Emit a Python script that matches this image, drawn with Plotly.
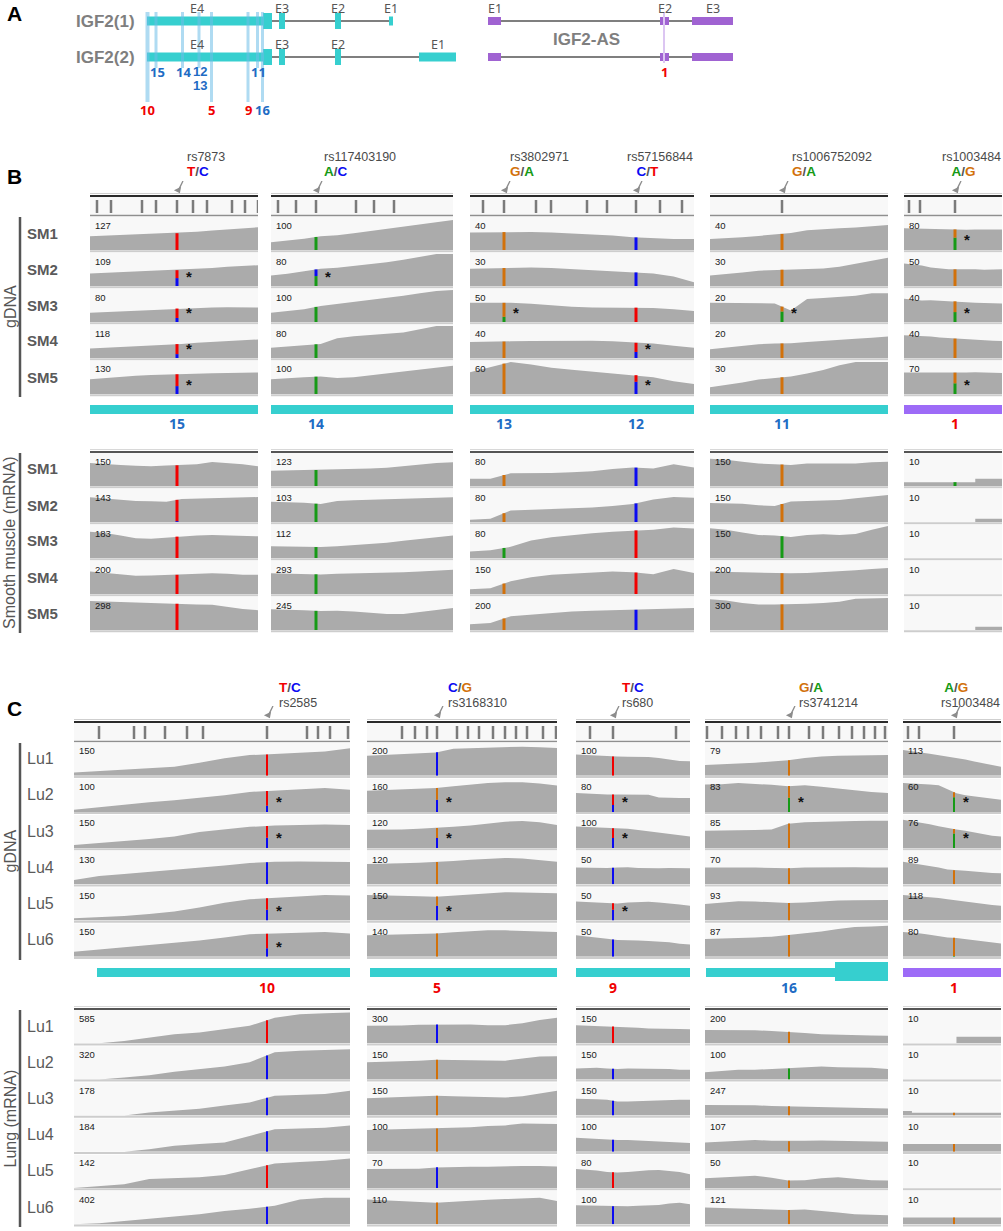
import numpy as np
import plotly.graph_objects as go

W, H = 1003, 1231

# ---------------- data ----------------
# panel A: schematic gene models (schematic position units)
igf2_names = ["IGF2(1)", "IGF2(2)"]
igf2_utr = (147, 263)
igf2_coding = [(263, 272), (279, 285), (335, 341)]
igf2_first_exon = [(389, 393), (419, 456)]
igf2_exon_names = ["E4", "E3", "E2", "E1"]
as_exons = [(488, 501), (660, 669), (692, 733)]
as_exon_names = ["E1", "E2", "E3"]
a_region_names = ["10", "15", "14", "12<br>13", "5", "9", "11", "16"]
a_region_pos = [147.5, 156, 182.5, 199, 211.5, 248, 257.5, 262.5]
as_region_pos = 664

base_colors = {"A": "#169a16", "C": "#0a0af2", "G": "#d2710a", "T": "#f20000"}
red_regions = {"10", "5", "9", "1"}

# panel B: smooth muscle
b_samples = ["SM1", "SM2", "SM3", "SM4", "SM5"]
b_snp_ids = [["rs7873"], ["rs117403190"], ["rs3802971", "rs57156844"], ["rs1006752092"], ["rs1003484"]]
b_alleles = [[("T", "C")], [("A", "C")], [("G", "A"), ("C", "T")], [("G", "A")], [("A", "G")]]
b_bar_bases = [[("T", "C")], [("C", "A")], [("G", "A"), ("T", "C")], [("G", "A")], [("G", "A")]]  # (top, bottom)
b_window_bp = [168, 182, 224, 178, 98]
b_snp_bp = [[87], [45], [34, 166], [72], [51]]
b_ruler_bp = [[7, 21, 52, 66, 87, 103, 117, 142, 155, 168], [7, 25, 45, 85, 103, 123],
              [13, 34, 66, 81, 117, 137, 166, 190, 212], [72], [5, 16, 51]]
b_exon_bp = [[(0, 168)], [(0, 182)], [(0, 224)], [(0, 178)], [(0, 98)]]
b_exon_gene = ["IGF2", "IGF2", "IGF2", "IGF2", "IGF2-AS"]
b_region_labels = [["15"], ["14"], ["13", "12"], ["11"], ["1"]]

b_gdna_scale = [[127, 109, 80, 118, 130], [100, 80, 100, 80, 100], [40, 30, 50, 40, 60],
                [40, 30, 20, 20, 30], [80, 50, 40, 40, 70]]
b_mrna_scale = [[150, 143, 183, 200, 298], [123, 103, 112, 293, 245], [80, 80, 80, 150, 200],
                [150, 150, 150, 200, 300], [10, 10, 10, 10, 10]]

# coverage, % of each track's data range, evenly spaced along the window
b_gdna_cov = [
    [[43, 45, 46, 47, 49, 51, 53, 57, 61, 64, 67, 71],
     [39, 41, 43, 45, 46, 48, 50, 53, 56, 60, 63, 65],
     [29, 31, 33, 35, 37, 40, 43, 45, 45, 46, 45, 45],
     [30, 32, 34, 37, 40, 42, 44, 48, 51, 54, 57, 58],
     [46, 50, 54, 57, 59, 61, 62, 64, 65, 66, 67, 67]],
    [[24, 29, 35, 43, 46, 52, 59, 66, 73, 80, 88, 94],
     [33, 38, 46, 54, 57, 62, 68, 74, 82, 92, 100, 100],
     [29, 34, 40, 50, 56, 62, 68, 75, 82, 90, 97, 100],
     [32, 35, 40, 44, 62, 68, 72, 76, 80, 90, 100, 100],
     [46, 48, 52, 55, 50, 52, 58, 64, 70, 76, 82, 88]],
    [[55, 56, 56, 56, 55, 52, 48, 45, 40, 36, 34, 34],
     [54, 55, 57, 58, 56, 53, 50, 47, 43, 39, 30, 12],
     [60, 60, 60, 57, 52, 48, 45, 45, 45, 44, 40, 34],
     [50, 50, 52, 53, 54, 55, 54, 52, 48, 45, 38, 32],
     [68, 85, 100, 92, 82, 76, 70, 66, 60, 52, 40, 31]],
    [[34, 36, 40, 44, 48, 53, 62, 66, 68, 70, 73, 78],
     [33, 37, 42, 48, 50, 52, 52, 55, 60, 70, 80, 88],
     [60, 60, 60, 60, 58, 36, 72, 75, 78, 82, 90, 90],
     [27, 32, 38, 43, 45, 46, 50, 54, 58, 60, 63, 67],
     [21, 28, 36, 45, 50, 55, 64, 75, 90, 100, 100, 100]],
    [[68, 67, 66, 65, 64, 65, 64, 63, 64, 64, 64, 64],
     [70, 68, 64, 58, 55, 52, 52, 53, 52, 51, 52, 52],
     [73, 70, 67, 68, 67, 66, 64, 62, 60, 59, 58, 58],
     [71, 70, 68, 67, 64, 62, 60, 58, 57, 55, 54, 53],
     [67, 67, 66, 65, 66, 66, 67, 67, 68, 68, 67, 66]],
]
b_mrna_cov = [
    [[72, 70, 66, 63, 62, 64, 65, 68, 75, 72, 68, 62],
     [77, 73, 70, 66, 65, 63, 72, 73, 74, 76, 77, 78],
     [82, 78, 70, 62, 60, 64, 68, 70, 72, 70, 69, 68],
     [70, 66, 60, 57, 58, 60, 60, 62, 65, 63, 60, 60],
     [91, 90, 88, 86, 84, 82, 82, 80, 79, 72, 66, 62]],
    [[48, 49, 50, 50, 53, 54, 55, 57, 62, 68, 72, 74],
     [63, 62, 60, 56, 66, 68, 70, 72, 73, 74, 76, 77],
     [37, 36, 35, 34, 37, 40, 44, 48, 54, 60, 65, 70],
     [65, 64, 63, 61, 63, 64, 64, 66, 68, 70, 73, 76],
     [65, 64, 62, 59, 60, 58, 55, 50, 50, 57, 64, 69]],
    [[23, 23, 40, 40, 41, 43, 46, 53, 58, 55, 68, 58],
     [7, 10, 36, 38, 40, 42, 45, 50, 56, 70, 78, 76],
     [20, 24, 35, 55, 65, 72, 77, 82, 86, 88, 95, 92],
     [15, 18, 40, 52, 60, 64, 67, 70, 68, 62, 78, 66],
     [18, 22, 43, 48, 54, 58, 60, 62, 63, 64, 66, 69]],
    [[85, 82, 76, 70, 68, 66, 70, 70, 68, 70, 74, 76],
     [59, 59, 57, 52, 50, 64, 66, 67, 69, 74, 80, 84],
     [93, 88, 80, 72, 70, 66, 72, 74, 72, 75, 88, 100],
     [70, 69, 68, 66, 65, 65, 66, 68, 70, 74, 78, 81],
     [96, 92, 84, 80, 80, 80, 82, 84, 88, 98, 100, 100]],
    [[12, 12, 12, 12, 12, 12, 12, 12, 23, 23, 23, 23],
     [0, 0, 0, 0, 0, 0, 0, 0, 10, 10, 10, 10],
     [0, 0, 0, 0, 0, 0, 0, 0, 0, 0, 0, 0],
     [0, 0, 0, 0, 0, 0, 0, 0, 0, 0, 0, 0],
     [0, 0, 0, 0, 0, 0, 0, 0, 10, 10, 10, 10]],
]
# fraction of reads carrying the lower (bottom) allele at each SNP; None = no mismatch bar
b_gdna_alt = [[[0, 0.5, 0.3, 0.28, 0.4]], [[1, 0.6, 1, 1, 1]],
              [[0, 0, 0.27, 0, 0], [1, 1, 0, 0.4, 0.65]], [[0, 0, 0.68, 0, 0]], [[0.6, 0, 0.48, 0, 0.5]]]
b_mrna_alt = [[[0, 0.04, 0, 0, 0]], [[1, 1, 1, 1, 1]],
              [[0, 0, 1, 0, 0], [1, 1, 0, 0, 1]], [[0, 0, 1, 0, 0]], [[1, None, None, None, None]]]

# panel C: lung
c_samples = ["Lu1", "Lu2", "Lu3", "Lu4", "Lu5", "Lu6"]
c_snp_ids = [["rs2585"], ["rs3168310"], ["rs680"], ["rs3741214"], ["rs1003484"]]
c_alleles = [[("T", "C")], [("C", "G")], [("T", "C")], [("G", "A")], [("A", "G")]]
c_bar_bases = [[("T", "C")], [("G", "C")], [("T", "C")], [("G", "A")], [("G", "A")]]
c_window_bp = [276, 190, 114, 183, 98]
c_snp_bp = [[193], [70], [37], [84], [51]]
c_ruler_bp = [[25, 60, 71, 91, 113, 129, 193, 233, 244, 256, 274],
              [35, 48, 60, 70, 90, 101, 112, 126, 138, 149, 160, 176, 189],
              [14, 37, 100],
              [2, 17, 31, 43, 56, 73, 84, 104, 118, 134, 147, 159, 170, 180],
              [5, 16, 51]]
c_exon_bp = [[(23, 276)], [(3, 190)], [(0, 114)], [(1, 130), (130, 183)], [(0, 98)]]
c_exon_thick = [[False], [False], [False], [False, True], [False]]
c_exon_gene = ["IGF2", "IGF2", "IGF2", "IGF2", "IGF2-AS"]
c_region_labels = [["10"], ["5"], ["9"], ["16"], ["1"]]

c_gdna_scale = [[150, 100, 150, 130, 150, 150], [200, 160, 120, 120, 150, 140], [100, 80, 100, 50, 50, 50],
                [79, 83, 85, 70, 93, 87], [113, 60, 76, 89, 118, 80]]
c_mrna_scale = [[585, 320, 178, 184, 142, 402], [300, 150, 150, 100, 70, 110], [150, 150, 150, 100, 80, 100],
                [200, 100, 247, 107, 50, 121], [10, 10, 10, 10, 10, 10]]

c_gdna_cov = [
    [[10, 14, 18, 22, 28, 40, 54, 64, 67, 70, 75, 85],
     [7, 15, 24, 30, 36, 43, 52, 62, 66, 70, 74, 69],
     [10, 15, 22, 28, 36, 50, 58, 66, 70, 72, 73, 72],
     [13, 26, 32, 38, 44, 50, 58, 66, 70, 71, 69, 69],
     [7, 10, 14, 20, 28, 40, 55, 66, 70, 76, 79, 78],
     [15, 22, 30, 36, 42, 50, 60, 70, 72, 75, 77, 72]],
    [[62, 64, 66, 68, 72, 84, 86, 88, 90, 90, 88, 86],
     [66, 68, 70, 72, 74, 80, 86, 90, 92, 92, 88, 82],
     [57, 57, 58, 60, 62, 66, 70, 76, 82, 84, 80, 72],
     [63, 63, 65, 67, 69, 72, 76, 80, 82, 80, 76, 70],
     [79, 77, 76, 75, 74, 78, 82, 86, 88, 87, 86, 85],
     [67, 68, 70, 71, 72, 76, 80, 82, 82, 81, 80, 77]],
    [[66, 64, 62, 60, 60, 59, 59, 58, 55, 50, 46, 45],
     [59, 57, 56, 54, 54, 54, 54, 53, 45, 43, 43, 43],
     [67, 66, 64, 62, 62, 60, 56, 52, 48, 44, 40, 36],
     [52, 51, 50, 51, 52, 53, 51, 50, 50, 51, 50, 50],
     [59, 58, 56, 54, 53, 56, 58, 58, 56, 54, 50, 46],
     [67, 64, 60, 56, 52, 50, 50, 49, 48, 45, 40, 38]],
    [[33, 35, 37, 40, 44, 48, 55, 60, 62, 63, 63, 64],
     [85, 86, 90, 88, 84, 80, 83, 78, 72, 66, 62, 59],
     [54, 54, 55, 56, 58, 76, 80, 82, 83, 84, 85, 85],
     [52, 51, 52, 52, 51, 50, 52, 53, 54, 53, 52, 52],
     [51, 56, 60, 59, 56, 54, 56, 60, 62, 63, 64, 64],
     [55, 56, 58, 60, 62, 67, 72, 78, 86, 92, 94, 96]],
    [[80, 77, 72, 68, 64, 60, 55, 50, 44, 38, 32, 28],
     [90, 89, 87, 85, 83, 70, 58, 52, 48, 44, 40, 38],
     [88, 84, 80, 74, 68, 62, 58, 54, 48, 42, 38, 36],
     [70, 66, 62, 58, 52, 46, 43, 42, 40, 37, 35, 34],
     [79, 77, 75, 72, 70, 66, 62, 58, 54, 50, 48, 46],
     [77, 75, 72, 68, 63, 60, 58, 55, 52, 48, 45, 41]],
]
c_mrna_cov = [
    [[0, 0, 7, 18, 28, 33, 43, 54, 79, 90, 93, 95],
     [0, 0, 6, 13, 24, 32, 40, 53, 84, 89, 92, 94],
     [0, 0, 0, 10, 15, 21, 31, 41, 62, 64, 67, 77],
     [0, 0, 0, 8, 19, 24, 29, 49, 70, 72, 75, 82],
     [0, 7, 12, 28, 30, 33, 40, 59, 76, 81, 85, 92],
     [0, 3, 10, 18, 24, 31, 41, 48, 57, 77, 82, 82]],
    [[54, 54, 55, 57, 58, 58, 58, 56, 56, 62, 72, 79],
     [53, 54, 56, 58, 61, 60, 59, 57, 58, 65, 71, 72],
     [54, 56, 58, 60, 62, 60, 58, 56, 56, 60, 68, 77],
     [68, 69, 70, 71, 72, 74, 76, 80, 82, 88, 88, 86],
     [59, 59, 59, 60, 64, 66, 66, 66, 68, 68, 68, 67],
     [77, 74, 72, 68, 67, 70, 74, 76, 78, 80, 82, 72]],
    [[56, 55, 54, 52, 52, 50, 48, 46, 46, 45, 44, 43],
     [34, 36, 36, 34, 32, 34, 34, 32, 34, 32, 30, 30],
     [52, 52, 51, 49, 44, 44, 45, 47, 49, 49, 49, 49],
     [44, 42, 40, 38, 37, 37, 35, 33, 31, 29, 28, 27],
     [59, 57, 54, 50, 48, 50, 53, 55, 56, 54, 50, 43],
     [59, 58, 57, 56, 55, 56, 57, 58, 60, 64, 67, 62]],
    [[41, 41, 41, 40, 38, 36, 32, 28, 26, 25, 24, 23],
     [22, 26, 30, 30, 32, 34, 38, 40, 38, 37, 36, 32],
     [33, 33, 32, 32, 30, 29, 29, 28, 27, 26, 24, 22],
     [29, 31, 34, 37, 34, 33, 34, 35, 34, 33, 32, 31],
     [30, 32, 34, 38, 32, 23, 24, 30, 33, 28, 24, 23],
     [52, 50, 49, 48, 46, 44, 46, 42, 36, 31, 29, 28]],
    [[0, 0, 0, 0, 0, 0, 20, 20, 20, 20, 20, 20],
     [0, 0, 0, 0, 0, 0, 0, 0, 0, 0, 0, 0],
     [14, 9, 9, 9, 9, 9, 9, 9, 9, 9, 9, 9],
     [24, 24, 24, 24, 24, 24, 24, 24, 24, 24, 24, 24],
     [0, 0, 0, 0, 0, 0, 0, 0, 0, 0, 0, 0],
     [21, 21, 21, 21, 21, 21, 21, 21, 21, 21, 21, 21]],
]
c_gdna_alt = [[[0, 0.3, 0.47, 1, 0.48, 0.37]], [[1, 0.51, 0.5, 0, 0.62, 0]], [[0, 0.4, 0.5, 1, 0.63, 1]],
              [[0, 0.55, 0, 0, 0, 0]], [[None, 0.74, 0.77, 0, None, 0.04]]]
c_mrna_alt = [[[0, 1, 1, 1, 0, 1]], [[1, 0, 0, 0, 1, 0]], [[0, 1, 1, 1, 0, 1]],
              [[0, 1, 0, 0, 0, 0]], [[None, None, 0, 0, None, 0]]]

# ---------------- styles / layout positions (px) ----------------
COV = "#ababab"
TRACK_BG = "#f8f8f8"
SEP = "#cdcdcd"
CYAN = "#36cfcf"
PURPLE_BAR = "#9d6bf7"
PURPLE_A = "#a063d2"
BAND = "rgba(110,190,232,0.55)"
BLUE_TXT = "#1f6cc4"
RED_TXT = "#f00000"
SANS = "Liberation Sans"
HEAD = "Noto Sans"

b_col_left = [90, 271, 470, 710, 904]
c_col_left = [74, 367, 576, 705, 903]

fig = go.Figure()
axes = {}
shapes = []
annos = []
n_ax = [0]


def px_x(v):
    return v / W


def px_y(v):
    return 1 - v / H


def add_axes(left, right, top, bottom, xr, yr):
    n_ax[0] += 1
    s = "" if n_ax[0] == 1 else str(n_ax[0])
    axes["xaxis" + s] = dict(domain=[left / W, right / W], range=xr, visible=False,
                             fixedrange=True, anchor="y" + s)
    axes["yaxis" + s] = dict(domain=[1 - bottom / H, 1 - top / H], range=yr, visible=False,
                             fixedrange=True, anchor="x" + s)
    return "x" + s, "y" + s


def text(x, y, t, size=12, color="#333", family=SANS, xanchor="center", xref="paper", angle=0, yanchor="middle"):
    annos.append(dict(x=x, y=y, xref=xref, yref="paper", text=t, showarrow=False, textangle=angle,
                      xanchor=xanchor, yanchor=yanchor, align="left" if xanchor == "left" else "center",
                      font=dict(size=size, color=color, family=family)))


def hline(x0, x1, y, color, width):
    shapes.append(dict(type="line", xref="paper", yref="paper", x0=px_x(x0), x1=px_x(x1),
                       y0=px_y(y), y1=px_y(y), line=dict(color=color, width=width), layer="below"))


def prect(x0, x1, y0, y1, color):
    shapes.append(dict(type="rect", xref="paper", yref="paper", x0=px_x(x0), x1=px_x(x1),
                       y0=px_y(y1), y1=px_y(y0), fillcolor=color, line_width=0, layer="below"))


# ---------------- panel A ----------------
ax_a, ay_a = add_axes(0, W, 0, 130, [0, W], [130, 0])
row_y = [21, 57]
for i, name in enumerate(igf2_names):
    y = row_y[i]
    text(px_x(74), px_y(y), "<b>" + name + "</b>", 17, "#7f7f7f", xanchor="left")
    e1 = igf2_first_exon[i]
    shapes.append(dict(type="line", xref=ax_a, yref=ay_a, x0=igf2_coding[0][1], x1=e1[0], y0=y, y1=y,
                       line=dict(color="#555", width=1.5)))
    shapes.append(dict(type="rect", xref=ax_a, yref=ay_a, x0=igf2_utr[0], x1=igf2_utr[1], y0=y - 4.5, y1=y + 4.5,
                       fillcolor=CYAN, line_width=0))
    for (s, e) in igf2_coding:
        shapes.append(dict(type="rect", xref=ax_a, yref=ay_a, x0=s, x1=e, y0=y - 8, y1=y + 8,
                           fillcolor=CYAN, line_width=0))
    shapes.append(dict(type="rect", xref=ax_a, yref=ay_a, x0=e1[0], x1=e1[1], y0=y - 4.5, y1=y + 4.5,
                       fillcolor=CYAN, line_width=0))
    lab_x = [197, (igf2_coding[1][0] + igf2_coding[1][1]) / 2, (igf2_coding[2][0] + igf2_coding[2][1]) / 2,
             (e1[0] + e1[1]) / 2]
    for nm, lx in zip(igf2_exon_names, lab_x):
        text(lx, px_y(max(y - 13, 8.5)), nm, 12.5, "#555", HEAD, xref=ax_a)
    # IGF2-AS
    shapes.append(dict(type="line", xref=ax_a, yref=ay_a, x0=as_exons[0][1], x1=as_exons[-1][0], y0=y, y1=y,
                       line=dict(color="#555", width=1.5)))
    for (s, e) in as_exons:
        shapes.append(dict(type="rect", xref=ax_a, yref=ay_a, x0=s, x1=e, y0=y - 4, y1=y + 4,
                           fillcolor=PURPLE_A, line_width=0))
for nm, (s, e) in zip(as_exon_names, as_exons):
    text((s + e) / 2, px_y(8.5), nm, 12.5, "#555", HEAD, xref=ax_a)
text(px_x(586), px_y(40), "<b>IGF2-AS</b>", 17, "#7f7f7f")

# highlighted regions
for nm, pos in zip(a_region_names, a_region_pos):
    long_band = nm in red_regions or nm == "16"
    wd = 4 if nm == "10" else 3
    shapes.append(dict(type="rect", xref=ax_a, yref=ay_a, x0=pos - wd / 2, x1=pos + wd / 2, y0=12,
                       y1=102 if long_band else 68, fillcolor=BAND, line_width=0))
    col = RED_TXT if nm in red_regions else BLUE_TXT
    if long_band:
        text(pos, px_y(110), "<b>" + nm + "</b>", 13, col, HEAD, xref=ax_a)
    elif "<br>" in nm:
        stacked = "<br>".join("<span style='font-size:13px'>" + part + "</span>" for part in nm.split("<br>"))
        text(pos + 1, px_y(78.5), "<b>" + stacked + "</b>", 10.6, col, SANS, xref=ax_a)
    else:
        text(pos + 1, px_y(72), "<b>" + nm + "</b>", 13, col, HEAD, xref=ax_a)
shapes.append(dict(type="line", xref=ax_a, yref=ay_a, x0=as_region_pos, x1=as_region_pos, y0=12, y1=63,
                   line=dict(color="#dcc6f2", width=2)))
text(as_region_pos, px_y(72), "<b>1</b>", 13, RED_TXT, HEAD, xref=ax_a)

for letter, ly in [("A", 14), ("B", 177), ("C", 708)]:
    text(px_x(14), px_y(ly), "<b>" + letter + "</b>", 21, "#000")


# ---------------- genome-browser panels ----------------
def allele_html(pair):
    a, b = pair
    return ("<b><span style='font-size:13.5px;color:%s'>%s</span><span style='font-size:13.5px;color:#555'>/</span>"
            "<span style='font-size:13.5px;color:%s'>%s</span></b>" % (base_colors[a], a, base_colors[b], b))


def ruler(col_left, windows, marks, top):
    xas = []
    for c in range(5):
        left, right = col_left[c], col_left[c] + windows[c]
        hline(left, right, top - 2.5, "#cfcfcf", 1)
        hline(left, right, top, "#2b2b2b", 2)
        prect(left, right, top + 1, top + 19, TRACK_BG)
        hline(left, right, top + 19.5, "#8f8f8f", 1.5)
        xa, ya = add_axes(left, right, top + 4, top + 17, [0, windows[c]], [0, 1])
        xs, ys = [], []
        for m in marks[c]:
            xs += [m, m, None]
            ys += [0, 1, None]
        fig.add_trace(go.Scatter(x=xs, y=ys, xaxis=xa, yaxis=ya, mode="lines",
                                 line=dict(color="#7b7b7b", width=2.5), hoverinfo="skip", showlegend=False))
        xas.append(xa)
    return xas


def tracks(col_left, windows, snp_bp, bar_bases, cov, scale, alt, top, pitch, bar_w, gdna, step_cols,
           samples, sample_bold, mrna_line):
    for c in range(5):
        left, right = col_left[c], col_left[c] + windows[c]
        if mrna_line:
            hline(left, right, top - 3.5, "#d8d8d8", 1)
            hline(left, right, top - 1, "#555", 2)
        for r in range(len(samples)):
            t = top + r * pitch
            b = t + pitch
            prect(left, right, t, b - 3, TRACK_BG)
            hline(left, right, b - 1.8, SEP, 2)
            xa, ya = add_axes(left, right, t + 1, b - 3, [0, windows[c]], [0, 100])
            vals = cov[c][r]
            xs = np.linspace(0, windows[c], len(vals))
            step = c in step_cols
            fig.add_trace(go.Scatter(x=xs, y=vals, xaxis=xa, yaxis=ya, mode="lines",
                                     line=dict(color=COV, width=0, shape="hv" if step else "linear"),
                                     fill="tozeroy", fillcolor=COV, hoverinfo="skip", showlegend=False))
            text(px_x(left + 3), px_y(t + 8), str(scale[c][r]), 9.5, "#1a1a1a", xanchor="left")
            for k, p in enumerate(snp_bp[c]):
                f = alt[c][k][r]
                if f is None:
                    continue
                if step:
                    h = vals[int(np.searchsorted(xs, p, side="right")) - 1]
                else:
                    h = float(np.interp(p, xs, vals))
                top_b, bot_b = bar_bases[c][k]
                split = h * f
                if split > 0:
                    fig.add_trace(go.Scatter(x=[p, p], y=[0, split], xaxis=xa, yaxis=ya, mode="lines",
                                             line=dict(color=base_colors[bot_b], width=bar_w),
                                             hoverinfo="skip", showlegend=False))
                if split < h:
                    fig.add_trace(go.Scatter(x=[p, p], y=[split, h], xaxis=xa, yaxis=ya, mode="lines",
                                             line=dict(color=base_colors[top_b], width=bar_w),
                                             hoverinfo="skip", showlegend=False))
                if gdna and 0.1 < f < 0.9:
                    text(p + 12, px_y(t + 23), "<b>*</b>", 15, "#111", xref=xa)
    for r, nm in enumerate(samples):
        label = "<b>" + nm + "</b>" if sample_bold else nm
        text(px_x(25), px_y(top + r * pitch + pitch / 2 - 2), label, 15 if sample_bold else 16, "#5a5a5a",
             xanchor="left")


def headers(col_left, windows, snp_bp, ids, alleles, head_left, pad, rs_first, mid_y, tip_y):
    # pointer arrows on a small axis above each ruler, labels as one two-line text
    tail_dx, tail_dy = 6, 12
    head_angle = float(np.degrees(np.arctan2(-tail_dx, tail_dy))) % 360 + 180
    for c in range(5):
        xa, ya = add_axes(col_left[c], col_left[c] + windows[c], tip_y - tail_dy, tip_y, [0, windows[c]], [0, 1])
        for k, p in enumerate(snp_bp[c]):
            fig.add_trace(go.Scatter(x=[p + tail_dx, p + 1.2], y=[1, 0.2], xaxis=xa, yaxis=ya, mode="lines",
                                     line=dict(color="#8c8c8c", width=1.3), hoverinfo="skip", showlegend=False))
            fig.add_trace(go.Scatter(x=[p + 1.3], y=[0.25], xaxis=xa, yaxis=ya, mode="markers",
                                     marker=dict(symbol="triangle-up", size=7, angle=head_angle, color="#8c8c8c"),
                                     hoverinfo="skip", showlegend=False, cliponaxis=False))
            rs_pad, al_pad = pad[c][k]
            rs_line = "&nbsp;" * rs_pad + "<span style='font-size:12.5px;color:#4a4a4a'>" + ids[c][k] + "</span>"
            al_line = "&nbsp;" * al_pad + allele_html(alleles[c][k])
            body = rs_line + "<br>" + al_line if rs_first else al_line + "<br>" + rs_line
            text(px_x(head_left[c][k]), px_y(mid_y), body, 11.5, "#4a4a4a", SANS, xanchor="left")


def gene_bars(col_xas, exons, genes, thick, labels, snp_bp, y0, y1, lab_y):
    for c in range(5):
        color = PURPLE_BAR if genes[c] == "IGF2-AS" else CYAN
        for j, (s, e) in enumerate(exons[c]):
            big = thick is not None and thick[c][j]
            shapes.append(dict(type="rect", xref=col_xas[c], yref="paper", x0=s, x1=e,
                               y0=px_y(y1 + (4 if big else 0)), y1=px_y(y0 - (6 if big else 0)),
                               fillcolor=color, line_width=0))
        for k, lab in enumerate(labels[c]):
            col = RED_TXT if lab in red_regions else BLUE_TXT
            text(snp_bp[c][k], px_y(lab_y), "<b>" + lab + "</b>", 14, col, HEAD, xref=col_xas[c])


# panel B
b_xas = ruler(b_col_left, b_window_bp, b_ruler_bp, 196)
headers(b_col_left, b_window_bp, b_snp_bp, b_snp_ids, b_alleles,
        [[185], [322], [508, 625], [790], [940]],
        [[(0, 0)], [(0, 0)], [(0, 0), (0, 3)], [(0, 0)], [(0, 3)]], True, 165, 193)
tracks(b_col_left, b_window_bp, b_snp_bp, b_bar_bases, b_gdna_cov, b_gdna_scale, b_gdna_alt,
       217, 36, 3, True, [], b_samples, True, False)
gene_bars(b_xas, b_exon_bp, b_exon_gene, None, b_region_labels, b_snp_bp, 405, 414, 423)
tracks(b_col_left, b_window_bp, b_snp_bp, b_bar_bases, b_mrna_cov, b_mrna_scale, b_mrna_alt,
       453, 36, 3, False, [4], b_samples, True, True)

# panel C
c_xas = ruler(c_col_left, c_window_bp, c_ruler_bp, 722)
headers(c_col_left, c_window_bp, c_snp_bp, c_snp_ids, c_alleles,
        [[277], [446], [620], [797], [939]],
        [[(0, 0)], [(0, 0)], [(0, 0)], [(0, 0)], [(0, 1)]], False, 695, 718)
tracks(c_col_left, c_window_bp, c_snp_bp, c_bar_bases, c_gdna_cov, c_gdna_scale, c_gdna_alt,
       742.5, 36.2, 2, True, [], c_samples, False, False)
gene_bars(c_xas, c_exon_bp, c_exon_gene, c_exon_thick, c_region_labels, c_snp_bp, 968, 977, 988)
tracks(c_col_left, c_window_bp, c_snp_bp, c_bar_bases, c_mrna_cov, c_mrna_scale, c_mrna_alt,
       1010, 36.2, 2, False, [4], c_samples, False, True)

# side group labels
for y0, y1, lab, size in [(217, 397, "gDNA", 16), (453, 633, "Smooth muscle (mRNA)", 16),
                          (743, 960, "gDNA", 16), (1010, 1227, "Lung (mRNA)", 16)]:
    shapes.append(dict(type="line", xref="paper", yref="paper", x0=px_x(20), x1=px_x(20),
                       y0=px_y(y0), y1=px_y(y1), line=dict(color="#555", width=2.5)))
    text(px_x(10), px_y((y0 + y1) / 2), lab, size, "#555", angle=-90)

fig.update_layout(width=W, height=H, margin=dict(l=0, r=0, t=0, b=0), paper_bgcolor="white",
                  plot_bgcolor="rgba(0,0,0,0)", showlegend=False, shapes=shapes, annotations=annos,
                  hovermode=False, **axes)
fig.write_html("out.html", config={"displayModeBar": False},
               post_script="document.body.style.margin='0';")
